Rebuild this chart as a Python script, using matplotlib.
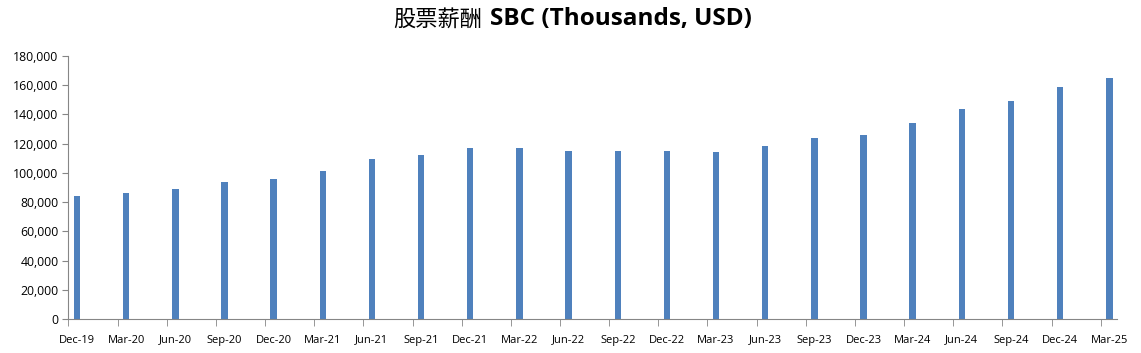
import matplotlib.pyplot as plt
from matplotlib.ticker import FuncFormatter, FixedLocator

# quarter labels and SBC values (thousands USD)
quarters = ['Dec-19', 'Mar-20', 'Jun-20', 'Sep-20', 'Dec-20', 'Mar-21', 'Jun-21',
            'Sep-21', 'Dec-21', 'Mar-22', 'Jun-22', 'Sep-22', 'Dec-22', 'Mar-23',
            'Jun-23', 'Sep-23', 'Dec-23', 'Mar-24', 'Jun-24', 'Sep-24', 'Dec-24',
            'Mar-25']
sbc = [84400, 86300, 89000, 93800, 95800, 101300, 109500,
       112200, 117000, 117000, 114900, 114900, 114900, 114300,
       118300, 123800, 125900, 134000, 143600, 149100, 158600,
       164800]

plt.rcParams['font.family'] = ['Open Sans', 'Noto Sans CJK SC', 'DejaVu Sans']

fig = plt.figure(figsize=(11.41, 3.53), dpi=100)
ax = fig.add_axes([68.3 / 1141, 1 - 319.3 / 353, (1116.7 - 68.3) / 1141, (319.3 - 55.7) / 353])

x = list(range(len(quarters)))
ax.bar(x, sbc, width=0.13, color='#4F81BD', zorder=2)

ax.set_xlim(-0.177, 21.15)
ax.set_ylim(0, 180000)
ax.set_yticks(range(0, 180001, 20000))
ax.yaxis.set_major_formatter(FuncFormatter(lambda v, p: f'{int(v):,}'))

ax.set_xticks(x)
ax.set_xticklabels(quarters)
ax.xaxis.set_minor_locator(FixedLocator([i - 0.175 for i in x]))
ax.tick_params(axis='x', which='major', length=0, pad=11, labelsize=8)
ax.tick_params(axis='x', which='minor', length=5, color='#868686', direction='out')
ax.tick_params(axis='y', length=4, color='#868686', labelsize=8.8, pad=3)

for s in ['top', 'right']:
    ax.spines[s].set_visible(False)
for s in ['left', 'bottom']:
    ax.spines[s].set_color('#868686')

# title: Chinese part in regular weight, English part bold
fig.text(0.4225, 0.945, '股票薪酬', ha='right', va='center', fontsize=16,
         family=['Noto Sans CJK SC'], fontweight='normal')
fig.text(0.4295, 0.945, 'SBC (Thousands, USD)', ha='left', va='center',
         fontsize=17.5, fontweight='bold')

fig.savefig('out.png', dpi=100)
